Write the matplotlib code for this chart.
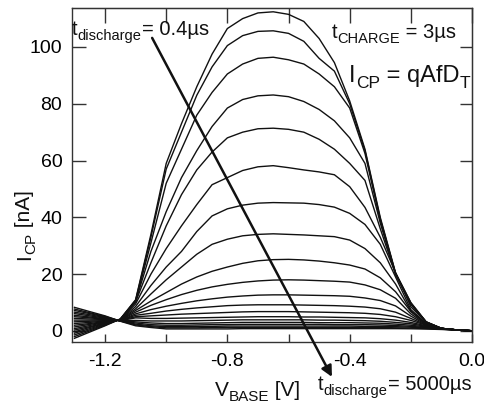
import matplotlib
matplotlib.use("Agg")
import matplotlib.pyplot as plt

plt.rcParams["font.family"] = ["Liberation Sans", "DejaVu Sans"]

INK = "#111111"
AXIS = "#333333"

# base voltage sweep (V)
v_base = [-1.30, -1.25, -1.20, -1.15, -1.10, -1.05, -1.00, -0.95, -0.90,
          -0.85, -0.80, -0.75, -0.70, -0.65, -0.60, -0.55, -0.50, -0.45,
          -0.40, -0.35, -0.30, -0.25, -0.20, -0.15, -0.10, -0.05, 0.00]

# charge pumping current (nA), one sweep per discharge time, 0.4us first
c01 = [-2.6, -0.4, 1.8, 4.2, 11.0, 34.0, 59.0, 73.0, 86.0, 97.5, 106.5, 110.0, 112.0, 112.4,
       111.5, 109.0, 103.0, 94.5, 81.0, 64.0, 40.0, 20.5, 10.0, 3.2, 0.9, 0.35, 0.05]
c02 = [-2.0, 0.0, 2.0, 4.2, 10.8, 33.0, 57.0, 70.0, 83.0, 93.0, 100.5, 104.0, 105.5, 105.7,
       104.8, 102.0, 96.0, 91.5, 80.0, 63.5, 39.5, 20.3, 9.8, 3.2, 0.9, 0.35, 0.05]
c03 = [-1.4, 0.4, 2.2, 4.1, 10.6, 31.0, 52.0, 64.0, 76.0, 84.0, 90.5, 94.0, 96.0, 96.4,
       95.5, 94.0, 90.5, 86.0, 78.5, 62.5, 39.0, 20.2, 9.7, 3.1, 0.9, 0.35, 0.05]
c04 = [-0.8, 0.8, 2.4, 4.1, 10.4, 28.0, 42.0, 54.0, 63.5, 72.0, 78.5, 81.5, 82.8, 83.1,
       82.5, 80.8, 78.0, 74.0, 68.0, 59.0, 38.0, 20.0, 9.5, 3.1, 0.9, 0.35, 0.05]
c05 = [-0.3, 1.2, 2.6, 4.0, 10.2, 24.0, 37.0, 48.0, 56.7, 63.0, 68.0, 70.0, 71.2, 71.4,
       71.0, 70.0, 67.5, 64.0, 59.0, 53.0, 36.0, 20.0, 9.3, 3.1, 0.9, 0.35, 0.05]
c06 = [0.3, 1.5, 2.8, 4.0, 9.5, 20.0, 29.0, 37.0, 44.5, 51.5, 54.0, 56.5, 57.8, 58.2,
       57.5, 56.7, 56.0, 55.0, 50.8, 43.5, 33.0, 20.5, 8.5, 3.0, 0.9, 0.35, 0.05]
c07 = [0.8, 1.9, 3.0, 3.9, 8.6, 16.0, 22.5, 28.0, 35.0, 40.5, 43.0, 44.3, 45.0, 45.2,
       45.1, 45.0, 44.5, 43.6, 41.4, 37.5, 30.5, 19.0, 7.5, 2.6, 0.9, 0.35, 0.05]
c08 = [1.4, 2.3, 3.1, 3.9, 7.8, 13.0, 18.0, 22.5, 27.0, 30.5, 32.3, 33.5, 34.0, 34.2,
       34.0, 33.8, 33.5, 33.2, 32.0, 29.0, 24.0, 16.5, 7.0, 2.5, 0.9, 0.35, 0.05]
c09 = [2.0, 2.6, 3.3, 3.8, 7.2, 10.5, 13.5, 16.5, 19.0, 21.0, 22.5, 23.8, 24.7, 25.1,
       25.2, 25.0, 24.6, 24.0, 23.2, 21.8, 18.7, 13.8, 6.8, 2.4, 0.9, 0.35, 0.05]
c10 = [2.6, 3.0, 3.5, 3.8, 6.6, 9.0, 11.0, 12.8, 14.3, 15.5, 16.4, 17.1, 17.6, 17.9,
       18.0, 17.9, 17.7, 17.5, 17.2, 16.2, 14.5, 11.5, 6.0, 2.3, 0.9, 0.35, 0.05]
c11 = [3.2, 3.4, 3.6, 3.7, 6.0, 7.5, 8.7, 9.7, 10.6, 11.3, 11.9, 12.3, 12.6, 12.7,
       12.7, 12.6, 12.5, 12.4, 12.2, 11.6, 10.7, 8.8, 5.2, 2.2, 0.9, 0.35, 0.05]
c12 = [3.8, 3.8, 3.8, 3.7, 5.5, 6.2, 7.0, 7.6, 8.1, 8.5, 8.9, 9.1, 9.2, 9.2,
       9.2, 9.1, 9.0, 8.9, 8.7, 8.4, 7.8, 6.6, 4.4, 2.1, 0.9, 0.35, 0.05]
c13 = [4.4, 4.2, 4.0, 3.7, 5.0, 5.3, 5.6, 5.9, 6.1, 6.3, 6.5, 6.7, 6.8, 6.8,
       6.8, 6.7, 6.6, 6.5, 6.4, 6.2, 5.8, 5.0, 3.7, 2.0, 0.85, 0.35, 0.05]
c14 = [5.0, 4.6, 4.1, 3.6, 4.6, 4.4, 4.4, 4.5, 4.6, 4.7, 4.8, 4.9, 5.0, 5.0,
       5.0, 4.9, 4.9, 4.8, 4.7, 4.6, 4.3, 3.8, 3.0, 1.8, 0.8, 0.35, 0.05]
c15 = [5.5, 4.9, 4.3, 3.6, 3.7, 3.5, 3.5, 3.5, 3.6, 3.7, 3.8, 3.9, 3.9, 3.9,
       3.9, 3.9, 3.8, 3.8, 3.7, 3.6, 3.4, 3.0, 2.5, 1.6, 0.8, 0.3, 0.05]
c16 = [6.1, 5.3, 4.5, 3.6, 3.2, 2.8, 2.6, 2.6, 2.7, 2.8, 2.9, 3.0, 3.0, 3.0,
       3.0, 3.0, 2.9, 2.9, 2.9, 2.8, 2.7, 2.4, 2.0, 1.4, 0.75, 0.3, 0.05]
c17 = [6.6, 5.7, 4.7, 3.5, 2.8, 2.2, 2.0, 2.0, 2.1, 2.2, 2.2, 2.3, 2.3, 2.3,
       2.3, 2.3, 2.3, 2.2, 2.2, 2.2, 2.1, 1.9, 1.6, 1.2, 0.7, 0.3, 0.05]
c18 = [7.2, 6.1, 4.9, 3.5, 2.4, 1.8, 1.5, 1.5, 1.6, 1.6, 1.7, 1.7, 1.7, 1.7,
       1.7, 1.7, 1.7, 1.7, 1.7, 1.6, 1.6, 1.5, 1.3, 1.0, 0.65, 0.3, 0.05]
c19 = [7.7, 6.4, 5.1, 3.5, 2.1, 1.5, 1.1, 1.1, 1.1, 1.2, 1.2, 1.2, 1.2, 1.2,
       1.2, 1.2, 1.2, 1.2, 1.2, 1.2, 1.2, 1.1, 1.0, 0.85, 0.6, 0.3, 0.05]
c20 = [8.3, 6.8, 5.3, 3.4, 1.8, 1.2, 0.7, 0.7, 0.7, 0.7, 0.7, 0.8, 0.8, 0.8,
       0.8, 0.8, 0.8, 0.8, 0.8, 0.8, 0.8, 0.8, 0.75, 0.65, 0.5, 0.3, 0.05]
sweeps = [c01, c02, c03, c04, c05, c06, c07, c08, c09, c10,
          c11, c12, c13, c14, c15, c16, c17, c18, c19, c20]

x_ticks = [-1.2, -1.0, -0.8, -0.6, -0.4, -0.2, 0.0]
x_ticklabels = ["-1.2", "", "-0.8", "", "-0.4", "", "0.0"]
y_ticks = [0, 20, 40, 60, 80, 100]

# direction of increasing discharge time, in data coords
arrow_from = (-1.046, 103.2)
arrow_to = (-0.458, -16.2)


def chain_text(ax, x, y, pieces, vertical=False):
    """Lay out (text, size, baseline shift in pt) pieces one after another,
    so subscripts can have their own size. Starts at axes fraction (x, y)."""
    prev = None
    for s, size, shift in pieces:
        kw = dict(textcoords="offset points", fontsize=size, color=INK,
                  annotation_clip=False, ha="left", va="baseline")
        if vertical:
            kw.update(rotation=90, rotation_mode="anchor")
            off = (-shift, 0)
            if prev is None:
                xy, coords = (x, y), "axes fraction"
            else:
                xy, coords = (x, 1), ("axes fraction", prev)
        else:
            off = (0, shift)
            if prev is None:
                xy, coords = (x, y), "axes fraction"
            else:
                xy, coords = (1, y), (prev, "axes fraction")
        prev = ax.annotate(s, xy=xy, xycoords=coords, xytext=off, **kw)
    return prev


fig = plt.figure(figsize=(4.85, 4.05), dpi=100)
ax = fig.add_axes([0.1485, 0.1563, 0.8247, 0.8237])

for ys in sweeps:
    ax.plot(v_base, ys, color=INK, lw=1.0, solid_joinstyle="miter")

ax.set_xlim(-1.308, 0.0)
ax.set_ylim(-3.8, 113.7)

ax.set_xticks(x_ticks)
ax.set_xticklabels(x_ticklabels)
ax.set_yticks(y_ticks)
ax.tick_params(axis="x", direction="in", length=5.5, width=1.0, color=AXIS,
               labelsize=14, pad=8)
ax.tick_params(axis="y", direction="in", length=10, width=1.0, color=AXIS,
               labelsize=14, pad=7)
for sp in ax.spines.values():
    sp.set_color(AXIS)
    sp.set_linewidth(1.0)

top = ax.secondary_xaxis("top")
top.set_xticks(x_ticks)
top.tick_params(direction="in", length=10.5, width=1.0, color=AXIS, labeltop=False)
right = ax.secondary_yaxis("right")
right.set_yticks(y_ticks)
right.tick_params(direction="in", length=8.5, width=1.0, color=AXIS, labelright=False)

# axis titles
chain_text(ax, 0.3575, -0.163, [("V", 15, 0), ("BASE", 11, -3.5), (" [V]", 15, 0)])
chain_text(ax, -0.105, 0.245, [("I", 15, 0), ("CP", 11, -3.5), (" [nA]", 15, 0)],
           vertical=True)

ax.annotate("", xy=arrow_to, xytext=arrow_from, annotation_clip=False,
            arrowprops=dict(arrowstyle="-|>", color=INK, lw=1.8,
                            mutation_scale=16, shrinkA=0, shrinkB=0))

chain_text(ax, 0.0, 0.919, [("t", 14.5, 0), ("discharge", 10.5, -3.5), ("= 0.4µs", 14.5, 0)])
chain_text(ax, 0.65, 0.910, [("t", 14.5, 0), ("CHARGE", 10.5, -3.5), (" = 3µs", 14.5, 0)])
chain_text(ax, 0.693, 0.778, [("I", 17, 0), ("CP", 12.5, -4), (" = qAfD", 17, 0), ("T", 12.5, -4)])
chain_text(ax, 0.615, -0.1447, [("t", 14.5, 0), ("discharge", 10.5, -3.5), ("= 5000µs", 14.5, 0)])

fig.savefig("out.png", dpi=100, facecolor="white")
